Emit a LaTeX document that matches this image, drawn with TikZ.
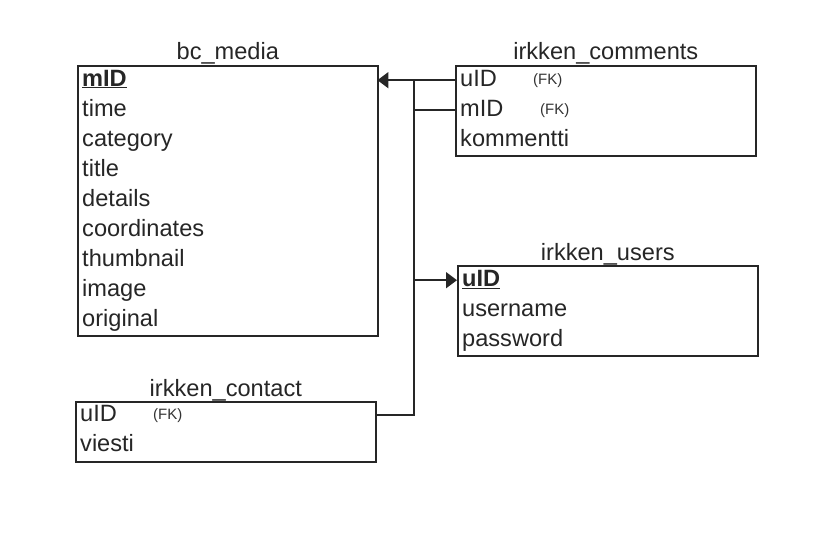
\documentclass[tikz,border=0pt]{standalone}
\usepackage{fontspec}
\setmainfont{Liberation Sans}
\usetikzlibrary{arrows.meta}
\begin{document}
\begin{tikzpicture}[x=1pt,y=-1pt,
  tbl/.style={draw=black!85, line width=1.6pt, fill=white, anchor=north west, inner sep=0pt},
  ttl/.style={anchor=base, inner sep=0pt, font=\fontsize{23.6}{28}\selectfont, text=black!85},
  row/.style={anchor=north west, inner xsep=5pt, inner ysep=0pt, minimum width=300pt, minimum height=30pt,
    text width=290pt, align=left, text height=17pt, text depth=5pt, font=\fontsize{23.6}{28}\selectfont, text=black!85},
  fk/.style={anchor=west, inner sep=0pt, font=\fontsize{15}{18}\selectfont, text=black!80},
  conn/.style={draw=black!85, line width=1.6pt},
  arr/.style={conn, -{Triangle[width=16pt,length=11pt]}}
]
\path[use as bounding box] (0,0) rectangle (824,548);

% bc_media
\node[tbl, minimum width=300pt, minimum height=270pt] (media) at (77,65) {};
\node[ttl] (mediaT) at ([yshift=5pt]media.north) {bc\_media};
\node[row] (m1) at (77,65) {\underline{\textbf{mID}}};
\node[row] (m2) at (77,95) {time};
\node[row] (m3) at (77,125) {category};
\node[row] (m4) at (77,155) {title};
\node[row] (m5) at (77,185) {details};
\node[row] (m6) at (77,215) {coordinates};
\node[row] (m7) at (77,245) {thumbnail};
\node[row] (m8) at (77,275) {image};
\node[row] (m9) at (77,305) {original};

% irkken_comments
\node[tbl, minimum width=300pt, minimum height=90pt] (comm) at (455,65) {};
\node[ttl] (commT) at ([yshift=5pt]comm.north) {irkken\_comments};
\node[row] (c1) at (455,65) {uID};
\node[row] (c2) at (455,95) {mID};
\node[row] (c3) at (455,125) {kommentti};
\node[fk] (fk1) at (533,0 |- c1.west) {(FK)};
\node[fk] (fk2) at (540,0 |- c2.west) {(FK)};

% irkken_users
\node[tbl, minimum width=300pt, minimum height=90pt] (users) at (457,265) {};
\node[ttl] (usersT) at ([yshift=5pt]users.north) {irkken\_users};
\node[row] (u1) at (457,265) {\underline{\textbf{uID}}};
\node[row] (u2) at (457,295) {username};
\node[row] (u3) at (457,325) {password};

% irkken_contact
\node[tbl, minimum width=300pt, minimum height=60pt] (cont) at (75,401) {};
\node[ttl] (contT) at ([yshift=5pt]cont.north) {irkken\_contact};
\node[row] (k1) at (75,400) {uID};
\node[row] (k2) at (75,430) {viesti};
\node[fk] (fk3) at (153,0 |- k1.west) {(FK)};

% connectors
\coordinate (jtop) at (414,0 |- c1.west);
\draw[arr] (c1.west) -- (m1.east);
\draw[conn] (c2.west) -- (jtop |- c2.west);
\draw[conn] (jtop) |- (k1.east);
\draw[arr] (jtop |- u1.west) -- (u1.west);
\end{tikzpicture}
\end{document}
